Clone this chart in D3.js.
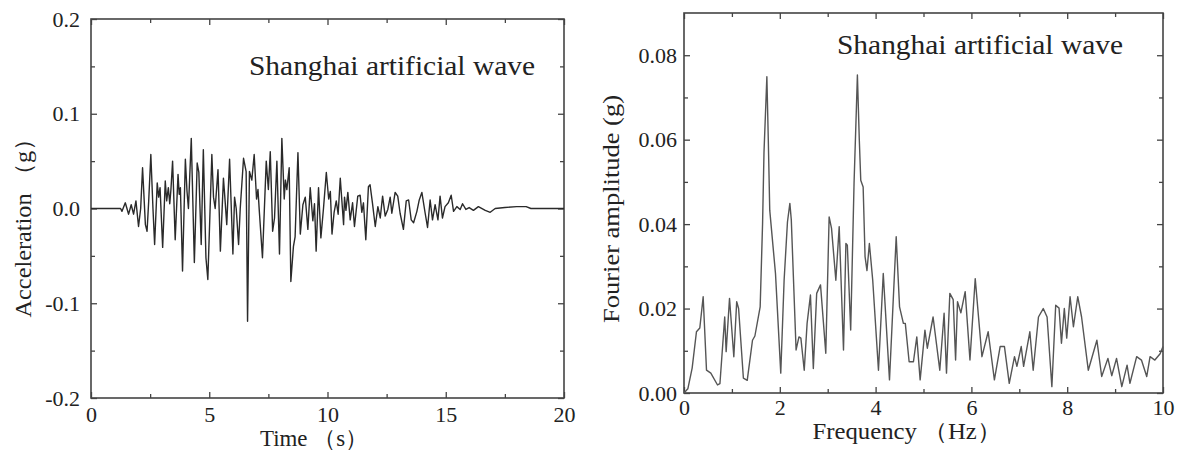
<!DOCTYPE html>
<html>
<head>
<meta charset="utf-8">
<script src="https://cdn.jsdelivr.net/npm/d3@7"></script>
<style>
  html, body { margin: 0; padding: 0; background: #fff; }
  svg { display: block; }
  text { font-family: "Liberation Serif", "Times New Roman", serif; fill: #222; }
</style>
</head>
<body>
<svg id="chart" width="1181" height="451"></svg>
<script>
// ---------- Left panel: acceleration time history ----------
const timeS = [0, 1.0, 1.25, 1.31, 1.45, 1.59, 1.70, 1.80, 1.90, 2.01, 2.10, 2.18, 2.30, 2.37, 2.44, 2.53, 2.62, 2.69, 2.80, 2.86, 2.92,
  3.03, 3.14, 3.20, 3.27, 3.33, 3.38, 3.45, 3.56, 3.68, 3.73, 3.78, 3.87, 3.99, 4.06, 4.12, 4.24, 4.37, 4.49, 4.56, 4.66, 4.75, 4.86, 4.94,
  5.11, 5.18, 5.25, 5.37, 5.47, 5.60, 5.67, 5.74, 5.86, 6.00, 6.07, 6.14, 6.24, 6.31, 6.45, 6.56, 6.62, 6.70, 6.80, 6.90, 7.00, 7.06, 7.12,
  7.25, 7.41, 7.50, 7.58, 7.68, 7.76, 7.86, 7.97, 8.07, 8.17, 8.22, 8.28, 8.38, 8.45, 8.56, 8.63, 8.75, 8.85, 8.96, 9.06,
  9.17, 9.27, 9.38, 9.45, 9.52, 9.62, 9.72, 9.83, 9.95, 10.05, 10.12, 10.19, 10.28, 10.37, 10.45, 10.54, 10.68, 10.72, 10.78, 10.86, 10.96,
  11.06, 11.14, 11.28, 11.38, 11.45, 11.52, 11.62, 11.73, 11.80, 11.90, 12.02, 12.13, 12.23, 12.33, 12.44, 12.55, 12.65,
  12.72, 12.86, 12.97, 13.07, 13.21, 13.33, 13.43, 13.54, 13.64, 13.78, 13.88, 13.99, 14.13, 14.23, 14.34, 14.44,
  14.55, 14.67, 14.76, 14.86, 14.97, 15.11, 15.23, 15.33, 15.47, 15.61, 15.71, 15.85, 15.99, 16.17, 16.38, 16.67,
  16.88, 17.09, 17.5, 18.0, 18.4, 18.6, 19.2, 20.0];
const accelG = [0, 0, 0, -0.003, 0.006, -0.006, 0.004, -0.006, 0.008, -0.019, 0.0, 0.043, -0.017, -0.024, 0.008, 0.057, 0.0, -0.038, 0.027, 0.012, 0.022,
  -0.041, 0.029, 0.008, 0.022, 0.005, 0.020, 0.050, -0.033, 0.036, 0.015, 0.022, -0.066, 0.052, 0.018, 0.000, 0.074, -0.057, 0.048, 0.038, -0.038, 0.062, -0.052, -0.075,
  0.057, 0.012, 0.0, 0.041, -0.045, 0.032, 0.008, -0.017, 0.052, -0.048, 0.012, 0.000, -0.038, 0.000, 0.053, 0.039, -0.119, 0.039, 0.030, 0.057, 0.010, 0.020, -0.004,
  -0.052, 0.050, 0.020, 0.060, -0.024, -0.010, 0.050, -0.048, 0.074, 0.010, 0.030, 0.020, 0.043, -0.077, -0.040, -0.030, 0.059, -0.027, 0.004, 0.012,
  -0.022, 0.022, -0.013, 0.005, -0.045, 0.022, -0.031, 0.000, 0.038, 0.010, 0.018, -0.027, -0.004, 0.008, -0.006, 0.032, -0.017, 0.012, -0.002, 0.017, -0.012,
  0.006, -0.019, 0.013, 0.014, -0.004, 0.006, -0.033, 0.023, 0.025, 0.006, -0.019, 0.002, -0.010, 0.013, -0.008, -0.001, 0.012,
  -0.005, 0.017, 0.013, -0.005, -0.022, 0.008, 0.009, -0.012, -0.015, -0.003, 0.009, 0.017, -0.005, -0.020, 0.009, -0.012,
  0.004, -0.012, 0.013, -0.010, 0.002, 0.006, 0.014, -0.003, 0.002, -0.001, 0.005, -0.001, 0.001, -0.002, 0.002, -0.002,
  -0.004, 0.0, 0.001, 0.002, 0.002, 0.0, 0.0, 0.0];
const timeTicks = [0, 5, 10, 15, 20];
const timeMinor = [2.5, 7.5, 12.5, 17.5];
const accelTicks = [-0.2, -0.1, 0.0, 0.1, 0.2];
const accelMinor = [-0.15, -0.05, 0.05, 0.15];

// ---------- Right panel: Fourier spectrum ----------
const freqHz = [0, 0.08, 0.17, 0.26, 0.33, 0.40, 0.47, 0.56, 0.70, 0.75, 0.85, 0.88, 0.95, 1.04, 1.10, 1.14, 1.24, 1.32, 1.43, 1.48,
  1.59, 1.64, 1.67, 1.73, 1.76, 1.79, 1.91, 2.02, 2.09, 2.16, 2.21, 2.24, 2.34, 2.40, 2.44, 2.51, 2.57, 2.64, 2.70, 2.77,
  2.85, 2.96, 3.03, 3.08, 3.17, 3.24, 3.33, 3.38, 3.41, 3.48, 3.55, 3.60, 3.62, 3.66, 3.69, 3.74, 3.78, 3.82, 3.87, 3.94,
  4.06, 4.16, 4.29, 4.43, 4.50, 4.58, 4.62, 4.70, 4.79, 4.86, 4.93, 5.03, 5.08, 5.20, 5.34, 5.43, 5.48, 5.55, 5.62, 5.67,
  5.71, 5.78, 5.87, 5.97, 6.08, 6.22, 6.35, 6.48, 6.60, 6.69, 6.79, 6.90, 6.95, 7.04, 7.09, 7.22, 7.29, 7.40, 7.50, 7.58,
  7.68, 7.76, 7.83, 7.88, 7.94, 7.99, 8.06, 8.13, 8.22, 8.30, 8.44, 8.62, 8.72, 8.85, 8.93, 9.03, 9.14, 9.25, 9.31, 9.45,
  9.55, 9.66, 9.73, 9.83, 9.94, 10.0];
const ampG = [0.000, 0.001, 0.0059, 0.0145, 0.0154, 0.0228, 0.0054, 0.0047, 0.0019, 0.0022, 0.018, 0.0098, 0.0224, 0.0086, 0.0216, 0.020, 0.0035, 0.003, 0.0125, 0.0135,
  0.0204, 0.040, 0.057, 0.0749, 0.0599, 0.0433, 0.0283, 0.0047, 0.0267, 0.0405, 0.0449, 0.041, 0.0102, 0.0133, 0.0130, 0.0054, 0.0165, 0.0232, 0.0058, 0.0236,
  0.0256, 0.0094, 0.0417, 0.039, 0.0267, 0.0394, 0.0102, 0.0354, 0.035, 0.0149, 0.0496, 0.0678, 0.0753, 0.0599, 0.0504, 0.0488, 0.0323, 0.0290, 0.0354, 0.0267,
  0.0054, 0.0283, 0.0031, 0.037, 0.0204, 0.0165, 0.0165, 0.0074, 0.0074, 0.0133, 0.0031, 0.0149, 0.0106, 0.018, 0.0054, 0.0189, 0.0047, 0.0236, 0.0221, 0.0078,
  0.0216, 0.019, 0.024, 0.0078, 0.0271, 0.0086, 0.0145, 0.0031, 0.011, 0.011, 0.0023, 0.0086, 0.0063, 0.011, 0.0063, 0.0145, 0.0054, 0.018, 0.020, 0.018,
  0.0015, 0.0208, 0.0201, 0.0118, 0.020, 0.013, 0.0228, 0.0157, 0.0228, 0.018, 0.0054, 0.0125, 0.0039, 0.0082, 0.0041, 0.0082, 0.0015, 0.0066, 0.0023, 0.0086,
  0.0078, 0.0039, 0.0086, 0.0078, 0.0093, 0.011];
const freqTicks = [0, 2, 4, 6, 8, 10];
const freqMinor = [1, 3, 5, 7, 9];
const ampTicks = [0.00, 0.02, 0.04, 0.06, 0.08];
const ampMinor = [0.01, 0.03, 0.05, 0.07];

const annotation = "Shanghai artificial wave";

const svg = d3.select("#chart");
const axisColor = "#444";

function hyphenFormat(spec) {
  const f = d3.format(spec);
  return v => f(v).replace("\u2212", "-");
}

function panel(cfg) {
  const g = svg.append("g");
  const x = d3.scaleLinear().domain(cfg.xDomain).range([cfg.left, cfg.right]);
  const y = d3.scaleLinear().domain(cfg.yDomain).range([cfg.bottom, cfg.top]);

  function styleAxis(sel) {
    sel.select(".domain").remove();
    sel.selectAll("line").attr("stroke", axisColor).attr("stroke-width", 1.3);
    sel.selectAll("text").style("font-family", "'Liberation Serif', 'Times New Roman', serif")
      .style("font-size", cfg.tickFont + "px").attr("fill", "#222");
  }
  g.append("g").attr("transform", `translate(0,${cfg.bottom})`)
    .call(d3.axisBottom(x).tickValues(cfg.xTicks).tickFormat(cfg.xFmt).tickSize(-6).tickPadding(cfg.xPad))
    .call(styleAxis);
  g.append("g").attr("transform", `translate(0,${cfg.bottom})`)
    .call(d3.axisBottom(x).tickValues(cfg.xMinor).tickFormat("").tickSize(-4)).call(styleAxis);
  g.append("g").attr("transform", `translate(0,${cfg.top})`)
    .call(d3.axisTop(x).tickValues(cfg.xTicks).tickFormat("").tickSize(-6)).call(styleAxis);
  g.append("g").attr("transform", `translate(0,${cfg.top})`)
    .call(d3.axisTop(x).tickValues(cfg.xMinor).tickFormat("").tickSize(-4)).call(styleAxis);
  g.append("g").attr("transform", `translate(${cfg.left},0)`)
    .call(d3.axisLeft(y).tickValues(cfg.yTicks).tickFormat(cfg.yFmt).tickSize(-6).tickPadding(cfg.yPad))
    .call(styleAxis);
  g.append("g").attr("transform", `translate(${cfg.left},0)`)
    .call(d3.axisLeft(y).tickValues(cfg.yMinor).tickFormat("").tickSize(-4)).call(styleAxis);
  g.append("g").attr("transform", `translate(${cfg.right},0)`)
    .call(d3.axisRight(y).tickValues(cfg.yTicks).tickFormat("").tickSize(-6)).call(styleAxis);
  g.append("g").attr("transform", `translate(${cfg.right},0)`)
    .call(d3.axisRight(y).tickValues(cfg.yMinor).tickFormat("").tickSize(-4)).call(styleAxis);

  g.append("rect").attr("x", cfg.left).attr("y", cfg.top)
    .attr("width", cfg.right - cfg.left).attr("height", cfg.bottom - cfg.top)
    .attr("fill", "none").attr("stroke", axisColor).attr("stroke-width", 1.6);

  const pts = cfg.xs.map((v, i) => [v, cfg.ys[i]]);
  g.append("path").datum(pts)
    .attr("fill", "none").attr("stroke", cfg.lineColor).attr("stroke-width", cfg.lineWidth)
    .attr("stroke-linejoin", "round")
    .attr("d", d3.line().x(d => x(d[0])).y(d => y(d[1])));

  g.append("text").attr("x", cfg.annX).attr("y", cfg.annY)
    .attr("font-size", 27).attr("textLength", 286).attr("lengthAdjust", "spacingAndGlyphs")
    .text(annotation);

  g.append("text").attr("x", cfg.xTitleX).attr("y", cfg.xTitleY).attr("text-anchor", "middle")
    .attr("font-size", 23).attr("textLength", cfg.xTitleLen).attr("lengthAdjust", "spacingAndGlyphs")
    .text(cfg.xTitle);
  g.append("text").attr("transform", `translate(${cfg.yTitleX},${cfg.yTitleY}) rotate(-90)`)
    .attr("text-anchor", "middle").attr("font-size", 23)
    .attr("textLength", cfg.yTitleLen).attr("lengthAdjust", "spacingAndGlyphs")
    .text(cfg.yTitle);
}

panel({
  left: 91, right: 564, top: 19, bottom: 398,
  xDomain: [0, 20], yDomain: [-0.2, 0.2],
  xTicks: timeTicks, xMinor: timeMinor, yTicks: accelTicks, yMinor: accelMinor,
  xFmt: d3.format("d"), yFmt: hyphenFormat(".1f"),
  xPad: 8, yPad: 11, tickFont: 22,
  xs: timeS, ys: accelG, lineColor: "#2a2a2a", lineWidth: 1.4,
  annX: 249, annY: 75,
  xTitle: "Time （s）", xTitleX: 314, xTitleY: 446, xTitleLen: 108,
  yTitle: "Acceleration （g）", yTitleX: 31, yTitleY: 222, yTitleLen: 191
});

panel({
  left: 684, right: 1163, top: 13, bottom: 393,
  xDomain: [0, 10], yDomain: [0, 0.09],
  xTicks: freqTicks, xMinor: freqMinor, yTicks: ampTicks, yMinor: ampMinor,
  xFmt: d3.format("d"), yFmt: hyphenFormat(".2f"),
  xPad: 6, yPad: 7, tickFont: 22,
  xs: freqHz, ys: ampG, lineColor: "#555", lineWidth: 1.4,
  annX: 837, annY: 54,
  xTitle: "Frequency （Hz）", xTitleX: 907, xTitleY: 439, xTitleLen: 189,
  yTitle: "Fourier amplitude (g)", yTitleX: 619, yTitleY: 209, yTitleLen: 228
});
</script>
</body>
</html>
